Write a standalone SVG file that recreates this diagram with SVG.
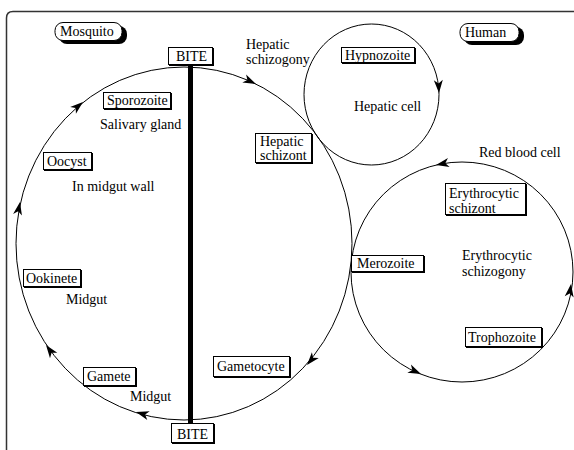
<svg xmlns="http://www.w3.org/2000/svg" width="574" height="450" viewBox="0 0 574 450">
<style>
text{font-family:"Liberation Serif","Times New Roman",serif;font-size:14px;fill:#000}
.box{fill:#fff;stroke:#000;stroke-width:1}
.sh{fill:#000}
.cyc{fill:none;stroke:#000;stroke-width:1}
</style>
<defs>
<path id="ah" d="M0,0 L-13,-4.5 L-9.5,0 L-13,4.5 Z" fill="#000"/>
</defs>
<rect width="574" height="450" fill="#fff"/>
<path d="M6.5,450 L6.5,18 Q6.5,11.5 13,11.5 L574,11.5" fill="none" stroke="#333" stroke-width="1.5"/>
<g id="connectors">
<ellipse class="cyc" cx="184" cy="243.5" rx="168" ry="176.5"/>
<ellipse class="cyc" cx="371.5" cy="94.5" rx="67.5" ry="70.5"/>
<ellipse class="cyc" cx="462" cy="272" rx="111" ry="110"/>
<line x1="190.5" y1="65" x2="190.5" y2="423" stroke="#000" stroke-width="5"/>
<use href="#ah" transform="translate(256,84) rotate(25)"/>
<use href="#ah" transform="translate(83,102) rotate(-40)"/>
<use href="#ah" transform="translate(20,202) rotate(-79)"/>
<use href="#ah" transform="translate(46,345) rotate(-126)"/>
<use href="#ah" transform="translate(136,412) rotate(196)"/>
<use href="#ah" transform="translate(307,365) rotate(130)"/>
<use href="#ah" transform="translate(439,93) rotate(87)"/>
<use href="#ah" transform="translate(436,165) rotate(169)"/>
<use href="#ah" transform="translate(421,374) rotate(24)"/>
<use href="#ah" transform="translate(571,284) rotate(-82)"/>
</g>
<g id="mosquito">
<rect class="sh" x="59" y="26" width="68" height="18" rx="8"/>
<rect class="box" x="55" y="22.5" width="67" height="18" rx="8"/>
<text x="60" y="36">Mosquito</text>
</g>
<g id="human">
<rect class="sh" x="464" y="27" width="60" height="18" rx="8"/>
<rect class="box" x="460" y="23.5" width="59" height="18" rx="8"/>
<text x="465" y="37">Human</text>
</g>
<g id="bite-top">
<rect class="sh" x="169" y="48" width="45" height="18"/>
<rect class="box" x="168.5" y="47.5" width="44" height="17"/>
<text x="176" y="61">BITE</text>
</g>
<g id="bite-bottom">
<rect class="sh" x="172" y="424" width="43" height="20"/>
<rect class="box" x="171.5" y="423.5" width="42" height="19"/>
<text x="177" y="439">BITE</text>
</g>
<g id="sporozoite">
<rect class="sh" x="104" y="93" width="68" height="17"/>
<rect class="box" x="103.5" y="92.5" width="67" height="16"/>
<text x="107" y="105">Sporozoite</text>
</g>
<text x="100" y="129">Salivary gland</text>
<g id="oocyst">
<rect class="sh" x="44" y="153" width="49" height="18"/>
<rect class="box" x="43.5" y="152.5" width="48" height="17"/>
<text x="47" y="166">Oocyst</text>
</g>
<text x="72" y="191">In midgut wall</text>
<g id="ookinete">
<rect class="sh" x="24" y="270" width="58" height="18"/>
<rect class="box" x="23.5" y="269.5" width="57" height="17"/>
<text x="26" y="283">Ookinete</text>
</g>
<text x="66" y="304">Midgut</text>
<g id="gamete">
<rect class="sh" x="84" y="368" width="53" height="19"/>
<rect class="box" x="83.5" y="367.5" width="52" height="18"/>
<text x="87" y="381">Gamete</text>
</g>
<text x="130" y="401">Midgut</text>
<g id="gametocyte">
<rect class="sh" x="214" y="357" width="77" height="21"/>
<rect class="box" x="213.5" y="356.5" width="76" height="20"/>
<text x="217" y="371">Gametocyte</text>
</g>
<text x="246" y="49">Hepatic</text>
<text x="246" y="64">schizogony</text>
<g id="hepatic-schizont">
<rect class="sh" x="256" y="134" width="57" height="30"/>
<rect class="box" x="255.5" y="133.5" width="56" height="29"/>
<text x="260" y="146">Hepatic</text>
<text x="260" y="160">schizont</text>
</g>
<g id="hypnozoite">
<rect class="sh" x="342" y="48" width="74" height="16"/>
<rect class="box" x="341.5" y="47.5" width="73" height="15"/>
<text x="345" y="60">Hypnozoite</text>
</g>
<text x="354" y="111">Hepatic cell</text>
<text x="479" y="157">Red blood cell</text>
<g id="erythrocytic-schizont">
<rect class="sh" x="446" y="184" width="81" height="32"/>
<rect class="box" x="445.5" y="183.5" width="80" height="31"/>
<text x="449" y="198">Erythrocytic</text>
<text x="449" y="213">schizont</text>
</g>
<text x="462" y="260">Erythrocytic</text>
<text x="462" y="276">schizogony</text>
<g id="merozoite">
<rect class="sh" x="352" y="256" width="73" height="17"/>
<rect class="box" x="351.5" y="255.5" width="72" height="16"/>
<text x="357" y="268">Merozoite</text>
</g>
<g id="trophozoite">
<rect class="sh" x="466" y="328" width="77" height="20"/>
<rect class="box" x="465.5" y="327.5" width="76" height="19"/>
<text x="468" y="342">Trophozoite</text>
</g>
</svg>
